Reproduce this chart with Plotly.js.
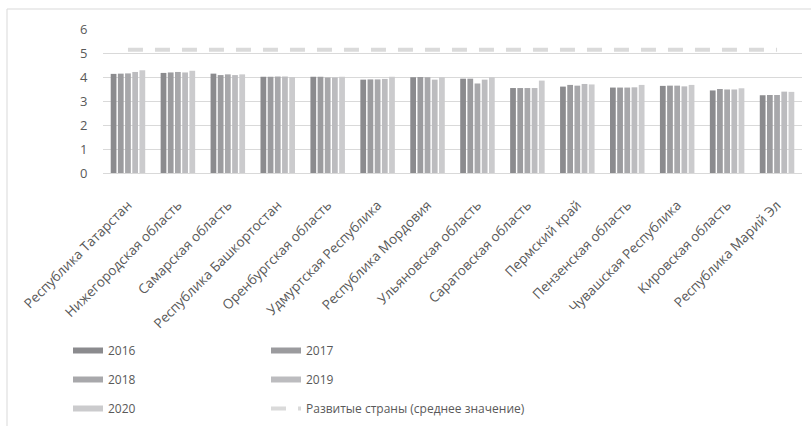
<!DOCTYPE html>
<html>
<head>
<meta charset="utf-8">
<script src="https://cdn.plot.ly/plotly-3.0.1.min.js"></script>
<style>
  html, body { margin: 0; padding: 0; background: #ffffff; }
  #chart { width: 811px; height: 426px; }
</style>
</head>
<body>
<div id="chart"></div>
<script>
const regions = [
  "Республика Татарстан",
  "Нижегородская область",
  "Самарская область",
  "Республика Башкортостан",
  "Оренбургская область",
  "Удмуртская Республика",
  "Республика Мордовия",
  "Ульяновская область",
  "Саратовская область",
  "Пермский край",
  "Пензенская область",
  "Чувашская Республика",
  "Кировская область",
  "Республика Марий Эл"
];

const years = ["2016", "2017", "2018", "2019", "2020"];

const v2016 = [4.13, 4.17, 4.14, 4.01, 4.01, 3.89, 3.99, 3.93, 3.54, 3.60, 3.56, 3.63, 3.44, 3.24];
const v2017 = [4.14, 4.19, 4.08, 4.01, 4.01, 3.90, 4.00, 3.93, 3.54, 3.67, 3.56, 3.64, 3.50, 3.25];
const v2018 = [4.15, 4.21, 4.11, 4.02, 3.98, 3.90, 3.99, 3.73, 3.54, 3.64, 3.56, 3.64, 3.48, 3.25];
const v2019 = [4.21, 4.19, 4.08, 4.02, 3.98, 3.92, 3.89, 3.89, 3.54, 3.71, 3.57, 3.61, 3.48, 3.39];
const v2020 = [4.28, 4.26, 4.11, 4.00, 4.01, 4.01, 3.99, 3.99, 3.85, 3.69, 3.67, 3.67, 3.53, 3.38];

const developedAvg = 5.14;
const developedName = "Развитые страны (среднее значение)";
const developedValues = regions.map(() => developedAvg);

const seriesValues = [v2016, v2017, v2018, v2019, v2020];
const colors = ["#8b8b8e", "#9b9b9e", "#a8a8ab", "#bcbcbf", "#cbcbcd"];
const legendOf = ["legend", "legend2", "legend", "legend2", "legend"];

const traces = [];
seriesValues.forEach((vals, i) => {
  traces.push({
    type: "bar",
    x: regions,
    y: vals,
    name: years[i],
    marker: { color: colors[i] },
    showlegend: false,
    hoverinfo: "x+y+name"
  });
});

// legend-only swatches (wide bars like the original)
seriesValues.forEach((vals, i) => {
  traces.push({
    type: "scatter",
    mode: "lines",
    x: [null],
    y: [null],
    name: years[i],
    legend: legendOf[i],
    legendgroup: "g" + i,
    line: { color: colors[i], width: 6 },
    hoverinfo: "skip"
  });
});

traces.push({
  type: "scatter",
  mode: "lines",
  x: regions,
  y: developedValues,
  name: developedName,
  legend: "legend2",
  legendgroup: "g5",
  line: { color: "#dadada", width: 4, dash: "15px,12px" },
  hoverinfo: "y+name"
});

const W = 811, H = 426;
const L = 103, R = 9, T = 29, B = 253;
const pw = W - L - R, ph = H - T - B;
const px = (p) => (p - L) / pw;
const py = (p) => (H - B - p) / ph;

const legendCommon = {
  orientation: "v",
  xanchor: "left",
  yanchor: "top",
  bgcolor: "rgba(0,0,0,0)",
  traceorder: "grouped",
  tracegroupgap: 10,
  font: { family: "Open Sans, sans-serif", size: 12, color: "#595959" },
  itemwidth: 30
};

const layout = {
  width: W,
  height: H,
  margin: { l: L, r: R, t: T, b: B, autoexpand: false },
  paper_bgcolor: "#ffffff",
  plot_bgcolor: "#ffffff",
  barmode: "group",
  bargap: 0.28,
  bargroupgap: 0.2,
  font: { family: "Open Sans, sans-serif", color: "#595959" },
  xaxis: {
    type: "category",
    tickangle: -45,
    tickfont: { family: "Open Sans, sans-serif", size: 13.5, color: "#595959" },
    showgrid: false,
    showline: true,
    linecolor: "#d9d9d9",
    linewidth: 1,
    ticks: "outside",
    ticklen: 18,
    tickcolor: "rgba(0,0,0,0)",
    automargin: false
  },
  yaxis: {
    range: [0, 6],
    dtick: 1,
    tick0: 0,
    showgrid: true,
    gridcolor: "#d9d9d9",
    gridwidth: 1,
    zeroline: true,
    zerolinecolor: "#d9d9d9",
    zerolinewidth: 1,
    showline: false,
    ticks: "outside",
    ticklen: 12,
    tickcolor: "rgba(0,0,0,0)",
    tickfont: { family: "Open Sans, sans-serif", size: 13, color: "#595959" },
    automargin: false
  },
  legend: Object.assign({}, legendCommon, { x: px(68), y: py(336) }),
  legend2: Object.assign({}, legendCommon, { x: px(266), y: py(336) }),
  shapes: [
    { type: "line", xref: "paper", yref: "paper", x0: px(7), x1: px(811), y0: py(9), y1: py(9),
      line: { color: "#d9d9d9", width: 1 }, layer: "below" },
    { type: "line", xref: "paper", yref: "paper", x0: px(7), x1: px(7), y0: py(9), y1: py(430),
      line: { color: "#d9d9d9", width: 1 }, layer: "below" }
  ],
  showlegend: true
};

Plotly.newPlot("chart", traces, layout, { displayModeBar: false, staticPlot: true });
</script>
</body>
</html>
